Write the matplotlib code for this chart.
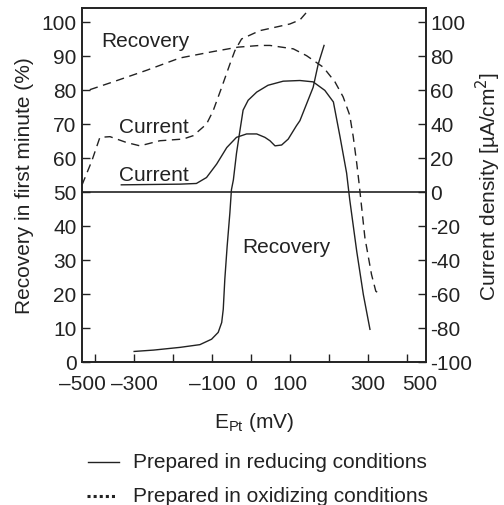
import matplotlib
matplotlib.use("Agg")
import matplotlib.pyplot as plt
from matplotlib.lines import Line2D

plt.rcParams['font.family'] = ['Liberation Sans', 'DejaVu Sans']
plt.rcParams['axes.unicode_minus'] = False

# --- Data (E_Pt in mV) ---
# Prepared in reducing conditions: recovery (%), left axis
red_rec_x = [-300, -250, -182, -131, -101, -84, -75, -71, -67, -61, -54, -50, -45, -37, -28, -20, -7, 15, 44, 83, 126, 160, 190, 212, 229, 246, 254, 272, 289, 306]
red_rec_y = [3.1, 3.5, 4.3, 5.1, 6.7, 8.7, 11.6, 15.5, 24.3, 34, 43.8, 50.6, 53.5, 61.3, 68.1, 74, 76.9, 79.3, 81.3, 82.5, 82.7, 82.3, 79.8, 76.4, 66.2, 55.5, 47.7, 32.5, 19.8, 9.6]
# Prepared in reducing conditions: current density (uA/cm2), right axis
red_cur_x = [-333, -182, -140, -114, -88, -62, -37, -11, 15, 36, 49, 62, 79, 96, 117, 126, 143, 160, 173, 188]
red_cur_y = [4.1, 4.5, 4.9, 8.4, 16.3, 26, 32, 34, 34, 32, 30, 27, 27.5, 31, 38.8, 41.8, 51.6, 61.4, 75, 86]
# Prepared in oxidizing conditions: recovery (%), left axis
ox_rec_x = [-414, -354, -268, -183, -97, -33, 23, 49, 109, 143, 186, 216, 237, 254, 263, 272, 278, 293, 310, 321, 332]
ox_rec_y = [80, 82.3, 85.7, 89.3, 91.2, 92.5, 93, 93, 92, 90, 86.6, 82.3, 77.9, 72.5, 66.2, 58.4, 52.5, 36.5, 25.7, 20.8, 19.9]
# Prepared in oxidizing conditions: current density (uA/cm2), right axis
ox_cur_x = [-434, -409, -388, -362, -320, -285, -234, -174, -148, -114, -97, -75, -54, -41, -24, 23, 49, 100, 126, 147]
ox_cur_y = [4, 18, 32, 32.4, 29, 27, 30, 31, 33, 39.8, 47.6, 61.4, 75, 83, 89.8, 94.7, 96, 98.6, 101, 106.5]

x_tick_pos = [-434, -300, -100, 0, 100, 300, 434]
x_tick_labels = ['\u2013500', '\u2013300', '\u2013100', '0', '100', '300', '500']
x_minor = [-400, -200, 200, 400]
left_ticks = list(range(0, 101, 10))
right_ticks = list(range(-100, 101, 20))

W, H = 504, 506
fig = plt.figure(figsize=(W / 100, H / 100), dpi=100)
ax = fig.add_axes([82 / W, 1 - 363 / H, (426 - 82) / W, (363 - 9) / H])
ax2 = ax.twinx()

FS = 15
INK = '#222222'
ax.set_xlim(-434, 450)
ax.set_ylim(0, 104)
ax2.set_ylim(-100, 108)

dash = (0, (6, 4))
ax.axhline(50, color=INK, lw=1.2)
ax.plot(red_rec_x, red_rec_y, color=INK, lw=1.0)
ax2.plot(red_cur_x, red_cur_y, color=INK, lw=1.0)
ax.plot(ox_rec_x, ox_rec_y, color=INK, lw=1.0, linestyle=dash)
ax2.plot(ox_cur_x, ox_cur_y, color=INK, lw=1.0, linestyle=dash)

ax.text(-270, 94.4, 'Recovery', fontsize=FS, ha='center', va='center', color=INK)
ax.text(-249, 69.3, 'Current', fontsize=FS, ha='center', va='center', color=INK)
ax.text(-249, 55.0, 'Current', fontsize=FS, ha='center', va='center', color=INK)
ax.text(92, 34, 'Recovery', fontsize=FS, ha='center', va='center', color=INK)

ax.set_xticks(x_tick_pos)
ax.set_xticklabels(x_tick_labels, fontsize=FS)
ax.set_xticks(x_minor, minor=True)
ax.tick_params(axis='x', which='both', direction='in', length=6, width=1.0, pad=9, colors=INK)
for i in (0, len(x_tick_pos) - 1):
    t = ax.xaxis.get_major_ticks()[i]
    t.tick1line.set_visible(False)
    t.tick2line.set_visible(False)

ax.set_yticks(left_ticks)
ax.set_yticklabels([str(v) for v in left_ticks], fontsize=FS)
ax.tick_params(axis='y', direction='in', length=6, width=1.0, pad=4, colors=INK)
ax2.set_yticks(right_ticks)
ax2.set_yticklabels([str(v) for v in right_ticks], fontsize=FS)
ax2.tick_params(axis='y', direction='in', length=6, width=1.0, pad=3, colors=INK)

for a in (ax, ax2):
    for s in a.spines.values():
        s.set_linewidth(1.2)
        s.set_color(INK)

ax.set_ylabel('Recovery in first minute (%)', fontsize=FS, color=INK, labelpad=5)
ax2.set_ylabel('Current density [\u00b5A/cm$^2$]', fontsize=FS, color=INK, labelpad=1)
ax.set_xlabel('E$_{\\mathregular{Pt}}$ (mV)', fontsize=FS, color=INK, labelpad=12)

# legend drawn manually below the axes
fig.add_artist(Line2D([88 / W, 119 / W], [1 - 463 / H, 1 - 463 / H], transform=fig.transFigure,
                      color=INK, lw=1.0))
fig.add_artist(Line2D([87 / W, 116 / W], [1 - 497 / H, 1 - 497 / H], transform=fig.transFigure,
                      color=INK, lw=2.2, linestyle=(0, (1, 1))))
fig.text(133 / W, 1 - 463 / H, 'Prepared in reducing conditions', fontsize=FS, va='center', ha='left', color=INK)
fig.text(133 / W, 1 - 497 / H, 'Prepared in oxidizing conditions', fontsize=FS, va='center', ha='left', color=INK)

fig.savefig('out.png', dpi=100)
